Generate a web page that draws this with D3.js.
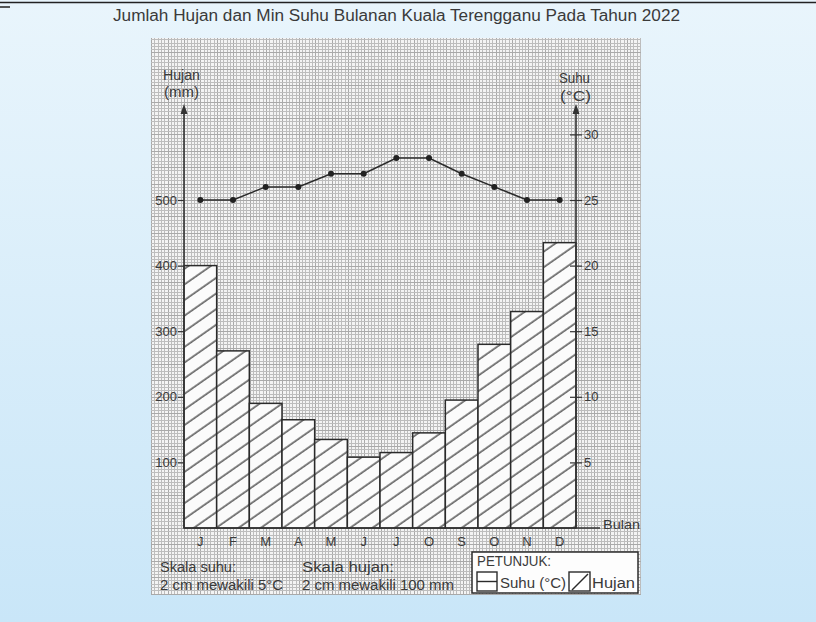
<!DOCTYPE html>
<html>
<head>
<meta charset="utf-8">
<script src="https://cdn.jsdelivr.net/npm/d3@7/dist/d3.min.js"></script>
<style>
  html, body { margin: 0; padding: 0; }
  svg { display: block; }
  text { font-family: "Liberation Sans", Arial, sans-serif; fill: #3a3a3a; }
</style>
</head>
<body>
<script>
const months = ["J","F","M","A","M","J","J","O","S","O","N","D"];
const hujan = [400,270,190,165,135,108,115,145,195,280,330,435];
const suhu = [25,25,26,26,27,27,28.2,28.2,27,26,25,25];
const hujanTicks = [100,200,300,400,500];
const suhuTicks = [5,10,15,20,25,30];

const W = 816, H = 622;
const svg = d3.select("body").append("svg").attr("width", W).attr("height", H);
const defs = svg.append("defs");

const bg = defs.append("linearGradient").attr("id","bg").attr("x1",0).attr("y1",0).attr("x2",0).attr("y2",1);
bg.append("stop").attr("offset","0%").attr("stop-color","#e9f5fc");
bg.append("stop").attr("offset","100%").attr("stop-color","#c9e6f8");
svg.append("rect").attr("width",W).attr("height",H).attr("fill","url(#bg)");

// top border line
svg.append("line").attr("x1",0).attr("x2",W).attr("y1",2.5).attr("y2",2.5).attr("stroke","#222").attr("stroke-width",1.5);
svg.append("line").attr("x1",0).attr("x2",10).attr("y1",7).attr("y2",7).attr("stroke","#222").attr("stroke-width",1.5);

// hatch pattern
const pat = defs.append("pattern").attr("id","hatch").attr("patternUnits","userSpaceOnUse")
  .attr("width",10).attr("height",12.8).attr("patternTransform","rotate(-35)");
pat.append("rect").attr("width",10).attr("height",12.8).attr("fill","#fbfbfb");
pat.append("line").attr("x1",0).attr("x2",10).attr("y1",6).attr("y2",6).attr("stroke","#2b2b2b").attr("stroke-width",1.2);

const x = d3.scaleBand().domain(d3.range(12)).range([184,576]).paddingInner(0).paddingOuter(0);
const yH = d3.scaleLinear().domain([0,500]).range([528,200]);
const yS = d3.scaleLinear().domain([0,25]).range([528,200]);

// graph paper panel
const px0 = 151, px1 = 641, py0 = 38, py1 = 595;
svg.append("rect").attr("x",px0).attr("y",py0).attr("width",px1-px0).attr("height",py1-py0).attr("fill","#f4f4f4");
const step = (yH(0) - yH(100)) / 20;
const grid = svg.append("g");
for (let k = -Math.floor((x.range()[0]-px0)/step); x.range()[0] + k*step <= px1; k++) {
  const gx = Math.round(x.range()[0] + k*step) + 0.5;
  grid.append("line").attr("x1",gx).attr("x2",gx).attr("y1",py0).attr("y2",py1)
    .attr("stroke", k % 5 === 0 ? "#a9a9a9" : "#bdbdbd").attr("stroke-width",1);
}
for (let k = -Math.floor((py1-yH(0))/step); yH(0) - k*step >= py0; k++) {
  const gy = Math.round(yH(0) - k*step) + 0.5;
  grid.append("line").attr("x1",px0).attr("x2",px1).attr("y1",gy).attr("y2",gy)
    .attr("stroke", k % 5 === 0 ? "#a9a9a9" : "#bdbdbd").attr("stroke-width",1);
}

// title
svg.append("text").attr("x",113).attr("y",21).attr("font-size",16)
  .attr("textLength",567).attr("lengthAdjust","spacingAndGlyphs")
  .text("Jumlah Hujan dan Min Suhu Bulanan Kuala Terengganu Pada Tahun 2022");

// bars
svg.append("g").selectAll("rect").data(hujan).join("rect")
  .attr("x",(d,i)=>x(i)).attr("width",x.bandwidth())
  .attr("y",d=>yH(d)).attr("height",d=>yH(0)-yH(d))
  .attr("fill","url(#hatch)").attr("stroke","#2b2b2b").attr("stroke-width",1.5);

// axes
const ink = "#333";
const gL = svg.append("g").attr("transform",`translate(${x.range()[0]},0)`)
  .call(d3.axisLeft(yH).tickValues(hujanTicks).tickSize(6).tickPadding(1).tickFormat(d3.format("d")));
gL.select(".domain").remove();
gL.selectAll(".tick line").attr("stroke",ink).attr("stroke-width",1.2);
gL.selectAll(".tick text").attr("font-size",13).attr("fill","#3a3a3a").attr("font-family","Liberation Sans, Arial, sans-serif");

const gR = svg.append("g").attr("transform",`translate(${x.range()[1]},0)`)
  .call(d3.axisRight(yS).tickValues(suhuTicks).tickSize(6).tickPadding(2));
gR.select(".domain").remove();
gR.selectAll(".tick line").attr("x1",-6).attr("stroke",ink).attr("stroke-width",1.2);
gR.selectAll(".tick text").attr("font-size",13).attr("fill","#3a3a3a").attr("font-family","Liberation Sans, Arial, sans-serif");

// axis lines with arrows
[x.range()[0], x.range()[1]].forEach(ax => {
  svg.append("line").attr("x1",ax).attr("x2",ax).attr("y1",yH(0)).attr("y2",112).attr("stroke",ink).attr("stroke-width",1.6);
  svg.append("path").attr("d",`M${ax},104 L${ax-3.5},114 L${ax+3.5},114 Z`).attr("fill",ink);
});
svg.append("line").attr("x1",x.range()[0]).attr("x2",600).attr("y1",yH(0)).attr("y2",yH(0)).attr("stroke",ink).attr("stroke-width",1.6);

// month labels
const gB = svg.append("g").attr("transform",`translate(0,${yH(0)})`)
  .call(d3.axisBottom(x).tickSize(0).tickPadding(9).tickFormat(i=>months[i]));
gB.select(".domain").remove();
gB.selectAll(".tick text").attr("font-size",13).attr("fill","#3a3a3a").attr("font-family","Liberation Sans, Arial, sans-serif");

// temperature line
const line = d3.line().x((d,i)=>x(i)+x.bandwidth()/2).y(d=>yS(d));
svg.append("path").datum(suhu).attr("d",line).attr("fill","none").attr("stroke","#2a2a2a").attr("stroke-width",1.5);
svg.append("g").selectAll("circle").data(suhu).join("circle")
  .attr("cx",(d,i)=>x(i)+x.bandwidth()/2).attr("cy",d=>yS(d)).attr("r",3).attr("fill","#222");

// axis titles
const t = (xx,yy,s,size,len) => {
  const e = svg.append("text").attr("x",xx).attr("y",yy).attr("font-size",size).text(s);
  if (len) e.attr("textLength",len).attr("lengthAdjust","spacingAndGlyphs");
  return e;
};
t(163,80,"Hujan",14,37);
t(164,97,"(mm)",14,35);
t(559,83,"Suhu",14,31);
t(560,101,"(°C)",14,31);
t(603,529,"Bulan",13,37);

// scale notes
t(160,572,"Skala suhu:",14,76);
t(160,590,"2 cm mewakili 5°C",14,123);
t(302,572,"Skala hujan:",14,92);
t(302,590,"2 cm mewakili 100 mm",14,152);

// legend
svg.append("rect").attr("x",472).attr("y",552).attr("width",166).attr("height",41)
  .attr("fill","#fdfdfd").attr("stroke","#2b2b2b").attr("stroke-width",1.5);
t(477,566,"PETUNJUK:",14,74);
svg.append("rect").attr("x",477).attr("y",572).attr("width",20).attr("height",19).attr("fill","#fff").attr("stroke","#2b2b2b").attr("stroke-width",1.4);
svg.append("line").attr("x1",477).attr("x2",497).attr("y1",581.5).attr("y2",581.5).attr("stroke","#2b2b2b").attr("stroke-width",1.4);
t(500,588,"Suhu (°C)",14,66);
svg.append("rect").attr("x",569).attr("y",572).attr("width",21).attr("height",19).attr("fill","#fff").attr("stroke","#2b2b2b").attr("stroke-width",1.4);
svg.append("line").attr("x1",572).attr("x2",588).attr("y1",590).attr("y2",574).attr("stroke","#2b2b2b").attr("stroke-width",1.4);
t(592,588,"Hujan",14,43);
</script>
</body>
</html>
